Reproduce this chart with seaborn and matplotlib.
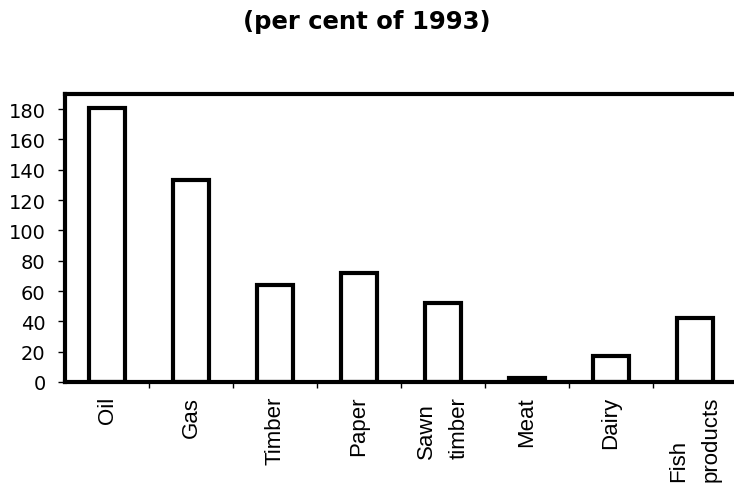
import pandas as pd
import seaborn as sns
import matplotlib.pyplot as plt

categories = ["Oil", "Gas", "Timber", "Paper", "Sawn\ntimber", "Meat", "Dairy", "Fish\nproducts"]
values = [181, 133, 64, 72, 52, 2.5, 17, 42]

df = pd.DataFrame({"product": categories, "pct": values})

sns.set_theme(style="white", rc={"text.color": "black", "xtick.color": "black",
                                 "ytick.color": "black", "axes.labelcolor": "black"})
plt.rcParams["font.family"] = ["Liberation Sans", "DejaVu Sans"]

fig = plt.figure(figsize=(7.34, 5.02), dpi=100)
ax = fig.add_axes([65 / 734, 1 - 383 / 502, 672 / 734, (383 - 95) / 502])

sns.barplot(data=df, x="product", y="pct", color="white", edgecolor="black",
            linewidth=3, width=0.44, saturation=1, ax=ax)

ax.set_ylim(0, 190)
ax.set_xlim(-0.5, len(categories) - 0.5)
ax.set_yticks(range(0, 181, 20))
ax.set_xlabel("")
ax.set_ylabel("")

# ticks sit between categories on the x axis
ax.set_xticks([i + 0.5 for i in range(len(categories) - 1)], minor=True)
ax.tick_params(axis="x", which="major", length=0, labelsize=16, labelrotation=90, pad=10)
ax.tick_params(axis="x", which="minor", length=4, width=1, direction="out", bottom=True)
ax.tick_params(axis="y", length=5, width=1, direction="out", left=True, pad=9)
for lbl in ax.get_yticklabels():
    lbl.set_fontfamily("DejaVu Sans")
    lbl.set_fontsize(14)
for lbl in ax.get_xticklabels():
    lbl.set_multialignment("left")
    lbl.set_linespacing(1.75)

for side in ["top", "left", "bottom"]:
    ax.spines[side].set_linewidth(3)
    ax.spines[side].set_color("black")
ax.spines["right"].set_visible(False)

fig.text(0.5, 1 - 22 / 502, "(per cent of 1993)", ha="center", va="center",
         fontsize=17.5, fontweight="bold", family="DejaVu Sans")

fig.savefig("out.png", dpi=100)
